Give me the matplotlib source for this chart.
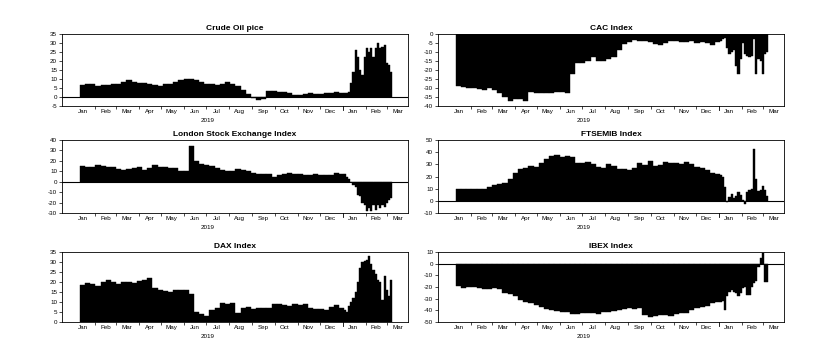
import numpy as np
import pandas as pd
import matplotlib
matplotlib.use("Agg")
import matplotlib.pyplot as plt
import matplotlib.dates as mdates

plt.rcParams['font.family'] = ['Liberation Sans', 'DejaVu Sans']
plt.rcParams['axes.unicode_minus'] = False

# ---------------------------------------------------------------
# dates: weekly through 2019, every 3 days in 2020
# ---------------------------------------------------------------
dates_2019 = pd.date_range('2019-01-11', '2019-12-27', freq='W-FRI')
dates_2020 = pd.date_range('2020-01-02', '2020-03-05', freq='3D')
dates = dates_2019.append(dates_2020)
end_date = pd.Timestamp('2020-03-07')

month_labels = ['Jan', 'Feb', 'Mar', 'Apr', 'May', 'Jun', 'Jul', 'Aug',
                'Sep', 'Oct', 'Nov', 'Dec', 'Jan', 'Feb', 'Mar']

# ---------------------------------------------------------------
# series values
# ---------------------------------------------------------------
crude_oil = [6.5, 7, 7, 6, 6.5, 6.5, 7, 7.5, 8.5, 9.5, 8.5, 8, 8, 7.5, 6.5, 6, 7,
             7, 8.5, 9.5, 10, 10, 9.5, 8.5, 7.5, 7, 6.5, 7.5, 8.5, 7, 6, 4, 1.5,
             -0.5, -1.5, -1, 3.5, 3.5, 3, 3, 2, 1, 1, 1.5, 2, 1.5, 1.5, 2, 2, 3, 2.5,
             2, 2.5, 3, 8, 14, 26, 22, 15, 12, 22, 27, 25, 27, 22, 27, 30, 27, 28,
             29, 19, 18, 14]

cac = [-29, -29.5, -30, -30, -30.5, -31, -30, -31, -33, -35, -37, -36, -36, -37,
       -32, -32.5, -33, -33, -32.5, -32, -32, -32.5, -22, -16, -16, -15, -13, -15,
       -15, -14, -13, -9, -5.5, -4.5, -3.5, -4, -4, -4.5, -5.5, -6, -5, -4, -4,
       -4.5, -4.5, -4, -5, -4.5, -5, -6, -4.5,
       -4, -3, -2, -8, -11, -10, -9, -18, -22, -14, -5, -11, -12, -13, -12, -3,
       -22, -14, -15, -22, -11, -10]

london = [15, 14, 14, 16, 15.5, 14.5, 14, 12, 11, 12.5, 13, 14, 11, 13, 16, 14,
          14, 13.5, 13, 10, 10.5, 34, 20, 17, 16, 15, 13, 11, 10, 10.5, 12, 11,
          10, 8, 7, 7, 7.5, 5, 6.5, 7, 8, 7.5, 7, 6, 6, 7, 6.5, 6, 6.5, 8, 7.5,
          7, 5, 3, 0, -3, -5, -13, -14, -20, -22, -28, -25, -28, -22, -27, -22,
          -25, -22, -24, -20, -18, -16]

ftsemib = [9.5, 10, 10, 9.5, 10, 10, 11.5, 13, 14, 15, 18, 23, 26, 27, 28.5, 28,
           31, 34, 37, 37.5, 36, 37, 36, 31.5, 31.5, 32, 30, 28, 27, 30, 29, 26,
           26, 25, 27, 31, 29.5, 33, 29, 29.5, 32, 31, 31, 30, 32, 30, 28, 27, 25,
           22.5, 22,
           21, 20, 11, -1, 3, 6, 2, 4, 7, 5, 1, -3, 7, 9, 10, 43, 18, 8, 9, 12, 9, 4]

dax = [18.5, 19.5, 19, 18, 20, 21, 20, 19, 20, 20, 19.5, 20.5, 21, 22, 17, 16,
       15.5, 15, 16, 16, 16, 14, 5, 4, 3, 6, 7, 9.5, 9, 9.5, 4.5, 7, 7.5, 6.5, 7,
       7, 7, 9, 9, 8.5, 8, 9, 8.5, 9, 7, 6.5, 6.5, 6, 7.5, 8.5, 7,
       6, 5, 8, 10, 12, 15, 20, 27, 30, 30.5, 31, 33, 29, 26, 24, 21, 20, 11, 23,
       16, 13, 21]

ibex = [-19, -20.5, -20, -20, -21, -22, -22, -21, -22, -25, -26, -28, -31, -33,
        -34, -35, -37, -39, -40, -40.5, -41, -41, -43, -43, -42.5, -42, -42, -43,
        -41, -41, -40.5, -40, -39, -38, -39, -38, -44, -46, -45, -44, -44, -44.5,
        -43, -42.5, -42, -40, -38, -37, -36, -34, -33,
        -33, -32, -40, -28, -24, -23, -24, -25, -28, -25, -21, -20, -27, -27, -20,
        -17, -15, -3, 5, 9, -16, -16]

# ---------------------------------------------------------------
# layout
# ---------------------------------------------------------------
W, H = 824, 361


def rect(x0, y0, x1, y1):
    return [x0 / W, 1 - y1 / H, (x1 - x0) / W, (y1 - y0) / H]


panels = [
    ("Crude Oil pice", crude_oil, (-5, 35), np.arange(-5, 36, 5), rect(62, 34, 408, 106)),
    ("CAC Index", cac, (-40, 0), np.arange(-40, 1, 5), rect(438, 34, 784, 106)),
    ("London Stock Exchange Index", london, (-30, 40), np.arange(-30, 41, 10), rect(62, 140, 408, 213)),
    ("FTSEMIB Index", ftsemib, (-10, 50), np.arange(-10, 51, 10), rect(438, 140, 784, 213)),
    ("DAX Index", dax, (0, 35), np.arange(0, 36, 5), rect(62, 252, 408, 322)),
    ("IBEX Index", ibex, (-50, 10), np.arange(-50, 11, 10), rect(438, 252, 784, 322)),
]

edges = mdates.date2num(dates.append(pd.DatetimeIndex([end_date])))
widths = np.diff(edges)

mid_months = mdates.date2num(pd.date_range('2019-01-01', '2020-03-01', freq='MS') + pd.Timedelta(days=14))
month_starts = [d for d in pd.date_range('2019-02-01', '2020-03-01', freq='MS')
                if d != pd.Timestamp('2020-01-01')]
month_starts = mdates.date2num(month_starts)
year_break = mdates.date2num(pd.Timestamp('2020-01-01'))
year_mid = mdates.date2num(pd.Timestamp('2019-07-02'))

fig = plt.figure(figsize=(W / 100, H / 100), dpi=100)

for title, vals, ylim, yticks, r in panels:
    ax = fig.add_axes(r)
    ax.bar(edges[:-1], vals, width=widths, align='edge', color='black',
           edgecolor='black', linewidth=0.3)
    if ylim[0] < 0 < ylim[1]:
        ax.axhline(0, color='black', lw=0.8)

    ax.set_xlim(mdates.date2num(pd.Timestamp('2018-12-18')),
                mdates.date2num(pd.Timestamp('2020-03-29')))
    ax.set_ylim(*ylim)
    ax.set_yticks(yticks)

    ax.set_xticks(mid_months, labels=month_labels)
    ax.set_xticks(month_starts, minor=True)
    ax.tick_params(axis='x', which='major', length=0, labelsize=4.5, pad=2.5)
    ax.tick_params(axis='x', which='minor', length=2, width=0.5, direction='out')
    ax.tick_params(axis='y', length=2, width=0.5, direction='out', labelsize=4.5, pad=1.5)

    # longer tick at the year boundary
    ax.plot([year_break, year_break], [0, -0.06], transform=ax.get_xaxis_transform(),
            color='black', lw=0.6, clip_on=False)
    ax.annotate('2019', xy=(year_mid, 0), xycoords=('data', 'axes fraction'),
                xytext=(0, -8.5), textcoords='offset points',
                ha='center', va='top', fontsize=4.5)

    for sp in ax.spines.values():
        sp.set_linewidth(0.6)

    ax.set_title(title, fontsize=6, fontweight='bold', pad=3)

fig.savefig('out.png', dpi=100)
